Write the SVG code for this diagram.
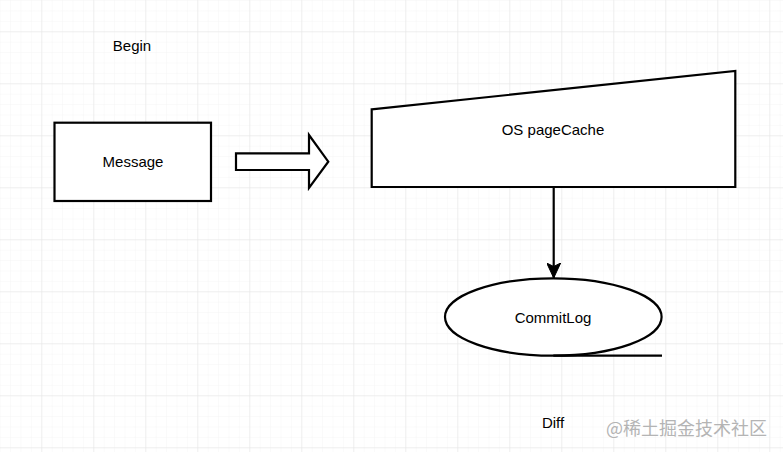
<svg xmlns="http://www.w3.org/2000/svg" width="783" height="452" viewBox="0 0 783 452">
  <defs>
    <pattern id="minor" x="41.3" y="31.3" width="10.4" height="10.4" patternUnits="userSpaceOnUse">
      <path d="M0,0 H10.4 M0,0 V10.4" fill="none" stroke="#f5f5f5" stroke-width="1"/>
    </pattern>
    <pattern id="major" x="41.3" y="31.3" width="52" height="52" patternUnits="userSpaceOnUse">
      <path d="M0,0 H52 M0,0 V52" fill="none" stroke="#e3e3e3" stroke-width="1"/>
    </pattern>
    <marker id="arrow" markerWidth="16" markerHeight="14" refX="15" refY="7" orient="auto" markerUnits="userSpaceOnUse" viewBox="0 0 16 14">
      <path d="M15,7 L0,0 L3.5,7 L0,14 Z" fill="#000" stroke="#000" stroke-width="1"/>
    </marker>
  </defs>
  <style>
    .shape { fill: #fff; stroke: #000; stroke-width: 2.2; }
    .lbl { font-family: "Liberation Sans", Arial, sans-serif; font-size: 15px; fill: #000; text-anchor: middle; }
    .edge { fill: none; stroke: #000; stroke-width: 2.2; }
  </style>
  <rect width="783" height="452" fill="#fff"/>
  <rect width="783" height="452" fill="url(#minor)"/>
  <rect width="783" height="452" fill="url(#major)"/>

  <g id="begin">
    <text class="lbl" x="132" y="51">Begin</text>
  </g>
  <g id="message">
    <rect class="shape" x="54.5" y="122.7" width="156.5" height="78.3"/>
    <text class="lbl" x="133" y="167">Message</text>
  </g>
  <g id="block-arrow">
    <polygon class="shape" points="236,153.3 309,153.3 309,135 328.3,161.7 309,188 309,170 236,170"/>
  </g>
  <g id="pagecache">
    <polygon class="shape" points="371.7,109.3 735.3,71 735.3,187 371.7,187"/>
    <text class="lbl" x="553" y="135">OS pageCache</text>
  </g>
  <g id="commitlog">
    <ellipse class="shape" cx="553.3" cy="317" rx="108.3" ry="38.7"/>
    <text class="lbl" x="553" y="323">CommitLog</text>
  </g>
  <g id="diff">
    <text class="lbl" x="553" y="428">Diff</text>
  </g>
  <g id="connectors">
    <line class="edge" x1="553.7" y1="187" x2="553.7" y2="278" marker-end="url(#arrow)"/>
    <line class="edge" x1="553.3" y1="355.7" x2="662" y2="355.7"/>
  </g>
  <g id="watermark">
    <text x="767" y="435" font-family="'Noto Sans CJK SC', sans-serif" font-size="18" fill="#b4b4b4" text-anchor="end">@稀土掘金技术社区</text>
  </g>
</svg>
